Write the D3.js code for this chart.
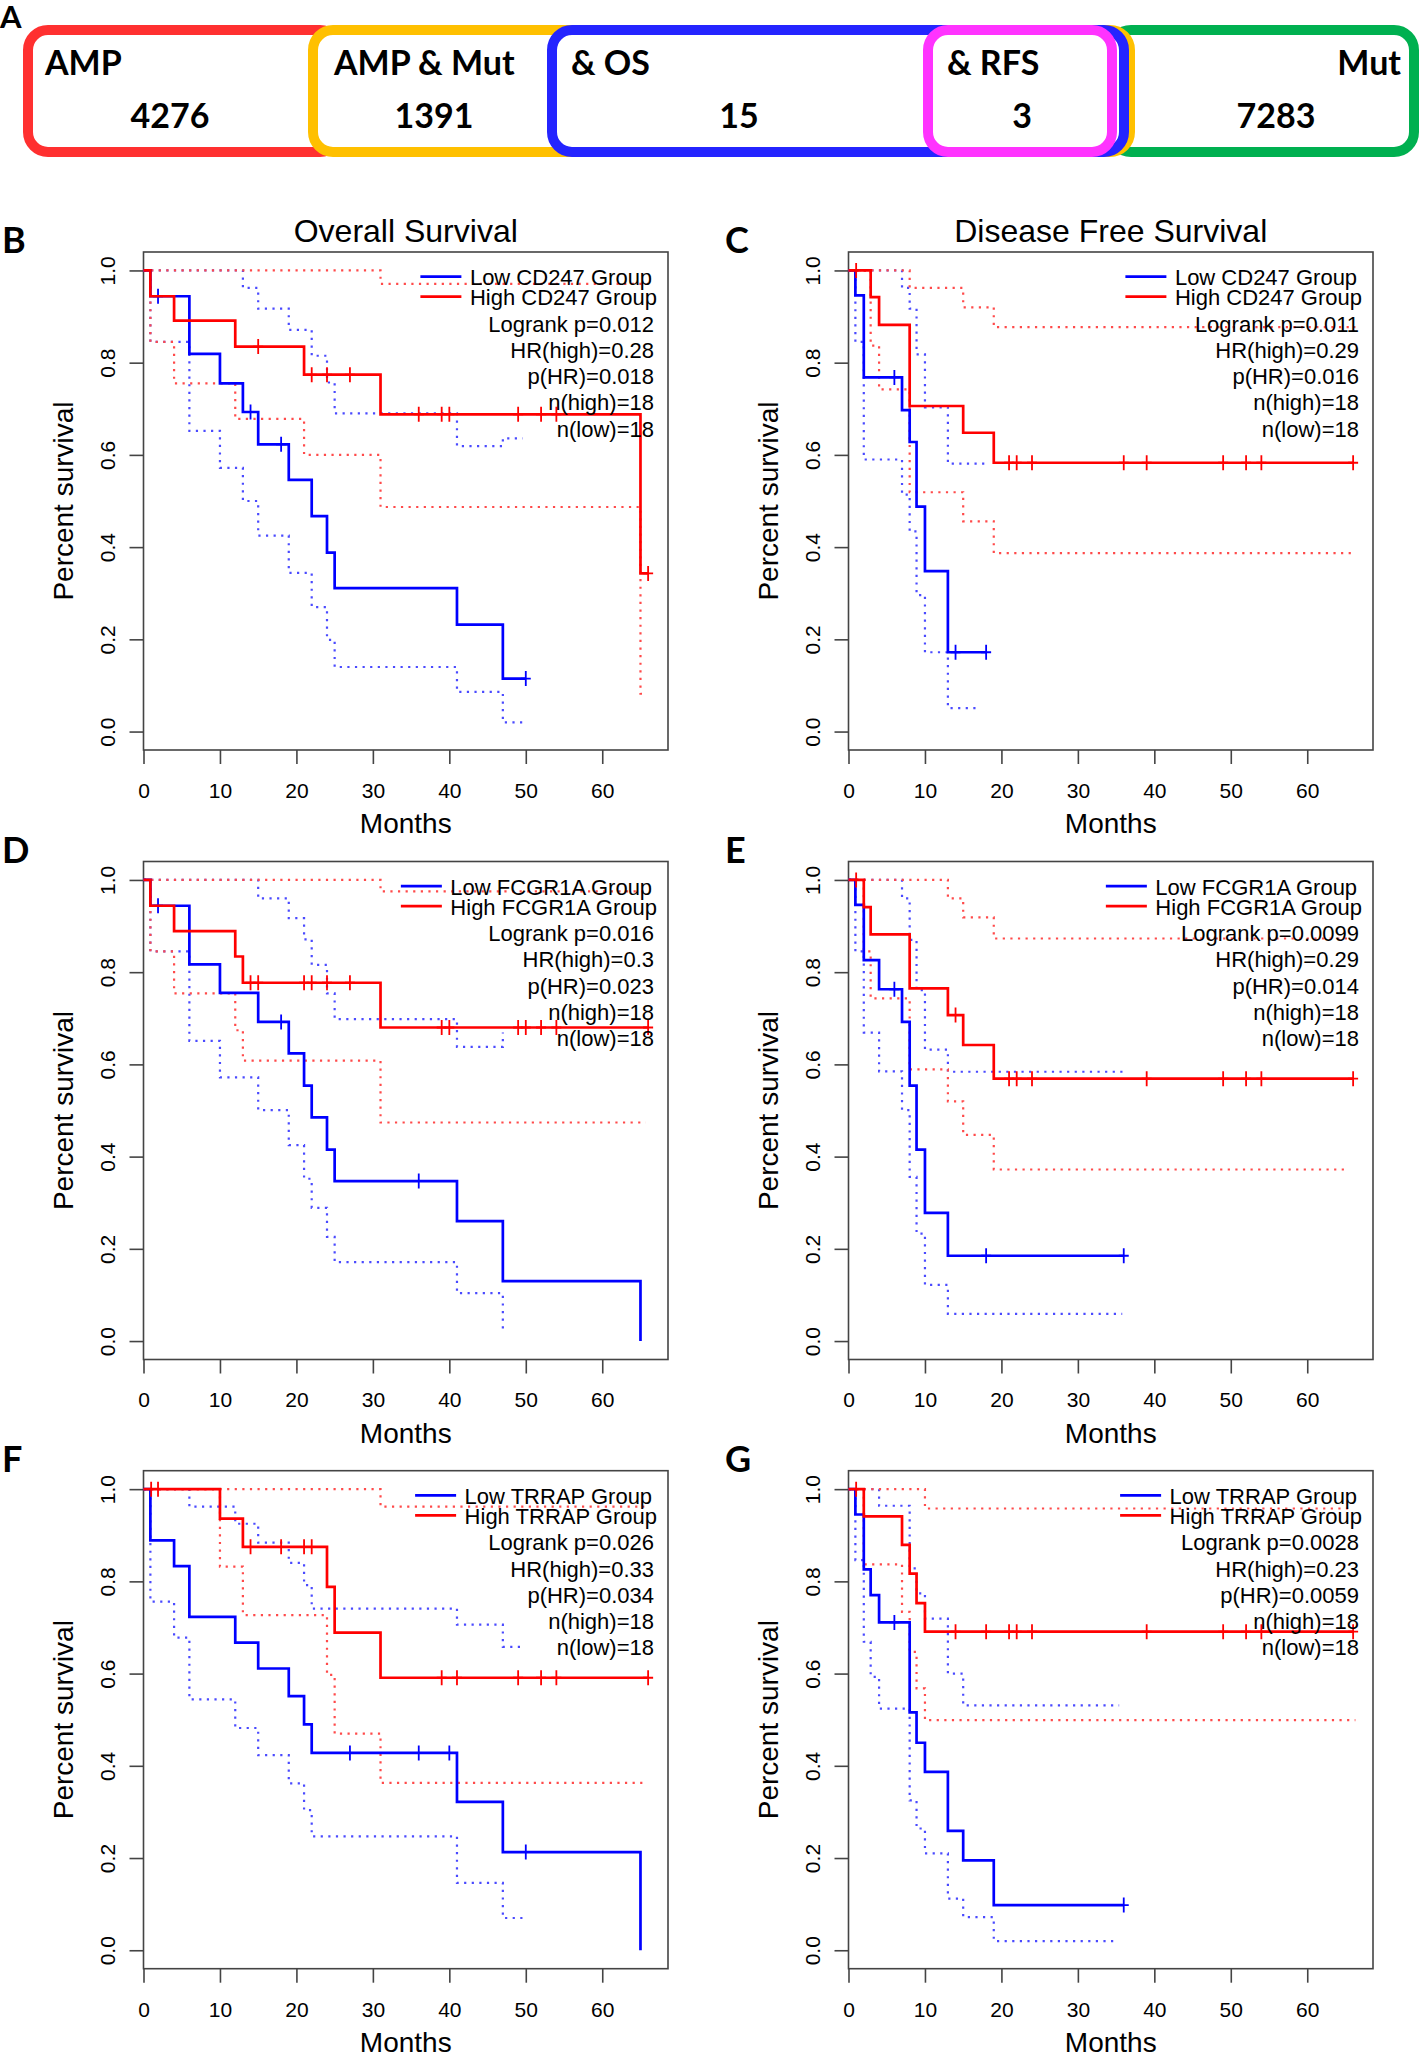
<!DOCTYPE html>
<html>
<head>
<meta charset="utf-8">
<script src="https://cdn.jsdelivr.net/npm/d3@7"></script>
<style>
    html, body { margin: 0; padding: 0; background: #fff; }
    svg { display: block; }
    .km-text { font-family: "Liberation Sans", Arial, sans-serif; fill: #000; }
    .fig-label { font-family: Lato, "Open Sans", sans-serif; font-weight: 700; fill: #000; }
</style>
</head>
<body>
<div id="chart"></div>
<script>
// ---------- data ----------
const vennLabels = ['AMP', 'AMP & Mut', '& OS', '& RFS', 'Mut'];
const vennCounts = ['4276', '1391', '15', '3', '7283'];

const monthTicks = [0, 10, 20, 30, 40, 50, 60];
const survivalTicks = [0, 0.2, 0.4, 0.6, 0.8, 1.0];

// [month, survival] step points
// B: CD247, overall survival
const bLow = [[0, 1], [0.9, 0.944], [6, 0.819], [10, 0.755], [13, 0.693], [15, 0.623], [19, 0.546], [22, 0.467], [24, 0.388], [25, 0.311], [41, 0.232], [47, 0.115], [50, 0.115]];
const bLowUpper = [[0, 1], [13, 0.962], [15, 0.917], [19, 0.871], [22, 0.815], [24, 0.757], [25, 0.690], [41, 0.619], [47, 0.636], [49.6, 0.636]];
const bLowLower = [[0, 1], [0.9, 0.845], [6, 0.652], [10, 0.572], [13, 0.500], [15, 0.425], [19, 0.344], [22, 0.270], [24, 0.199], [25, 0.140], [41, 0.086], [47, 0.020], [49.6, 0.020]];
const bHigh = [[0, 1], [0.9, 0.944], [4, 0.891], [12, 0.835], [21, 0.774], [31, 0.688], [65, 0.343], [66, 0.343]];
const bHighUpper = [[0, 1], [31, 0.971], [66, 0.971]];
const bHighLower = [[0, 1], [0.9, 0.845], [4, 0.755], [12, 0.678], [21, 0.600], [31, 0.487], [65, 0.082], [65.7, 0.082]];
const bLowCensor = [1.9, 14, 18, 50];
const bHighCensor = [15, 22, 24, 27, 36, 39, 40, 49, 52, 54, 66];
const bStats = ['Logrank p=0.012', 'HR(high)=0.28', 'p(HR)=0.018', 'n(high)=18', 'n(low)=18'];

// C: CD247, disease free survival
const cLow = [[0, 1], [0.9, 0.946], [2, 0.768], [7, 0.697], [8, 0.628], [8.9, 0.488], [10, 0.348], [13, 0.172], [18, 0.172]];
const cLowUpper = [[0, 1], [7, 0.962], [8, 0.917], [8.9, 0.818], [10, 0.703], [13, 0.581], [17.8, 0.581]];
const cLowLower = [[0, 1], [0.9, 0.845], [2, 0.590], [7, 0.514], [8, 0.434], [8.9, 0.296], [10, 0.172], [13, 0.051], [17.1, 0.051]];
const cHigh = [[0, 1], [2.9, 0.942], [4, 0.882], [8, 0.706], [15, 0.648], [19, 0.583], [66, 0.583]];
const cHighUpper = [[0, 1], [8, 0.962], [15, 0.920], [19, 0.877], [66.3, 0.877]];
const cHighLower = [[0, 1], [2.9, 0.837], [4, 0.742], [8, 0.519], [15, 0.456], [19, 0.387], [66.3, 0.387]];
const cLowCensor = [6, 14, 18];
const cHighCensor = [1, 21, 22, 24, 36, 39, 49, 52, 54, 66];
const cStats = ['Logrank p=0.011', 'HR(high)=0.29', 'p(HR)=0.016', 'n(high)=18', 'n(low)=18'];

// D: FCGR1A, overall survival
const dLow = [[0, 1], [0.9, 0.944], [6, 0.817], [10, 0.755], [15, 0.692], [19, 0.624], [21, 0.554], [22, 0.485], [24, 0.415], [25, 0.347], [41, 0.260], [47, 0.130], [65, 0]];
const dLowUpper = [[0, 1], [15, 0.960], [19, 0.917], [21, 0.871], [22, 0.816], [24, 0.754], [25, 0.698], [41, 0.638], [47, 0.669]];
const dLowLower = [[0, 1], [0.9, 0.845], [6, 0.651], [10, 0.572], [15, 0.501], [19, 0.425], [21, 0.352], [22, 0.289], [24, 0.226], [25, 0.171], [41, 0.104], [47, 0.023]];
const dHigh = [[0, 1], [0.9, 0.944], [4, 0.889], [12, 0.834], [13, 0.777], [31, 0.680], [66, 0.680]];
const dHighUpper = [[0, 1], [31, 0.975], [66, 0.975]];
const dHighLower = [[0, 1], [0.9, 0.845], [4, 0.754], [12, 0.674], [13, 0.608], [31, 0.474], [65.7, 0.474]];
const dLowCensor = [1.9, 18, 36];
const dHighCensor = [14, 15, 21, 22, 24, 27, 39, 40, 49, 50, 52, 54, 66];
const dStats = ['Logrank p=0.016', 'HR(high)=0.3', 'p(HR)=0.023', 'n(high)=18', 'n(low)=18'];

// E: FCGR1A, disease free survival
const eLow = [[0, 1], [0.9, 0.946], [2, 0.826], [4, 0.763], [7, 0.692], [8, 0.554], [8.9, 0.415], [10, 0.278], [13, 0.185], [36, 0.185]];
const eLowUpper = [[0, 1], [7, 0.960], [8, 0.870], [8.9, 0.761], [10, 0.632], [13, 0.584], [35.9, 0.584]];
const eLowLower = [[0, 1], [0.9, 0.845], [2, 0.669], [4, 0.585], [7, 0.501], [8, 0.356], [8.9, 0.233], [10, 0.122], [13, 0.059], [35.8, 0.059]];
const eHigh = [[0, 1], [2, 0.941], [2.9, 0.882], [8, 0.765], [13, 0.707], [15, 0.642], [19, 0.569], [66, 0.569]];
const eHighUpper = [[0, 1], [13, 0.960], [15, 0.919], [19, 0.873], [65.4, 0.873]];
const eHighLower = [[0, 1], [2, 0.845], [2.9, 0.743], [8, 0.589], [13, 0.520], [15, 0.447], [19, 0.372], [65.4, 0.372]];
const eLowCensor = [6, 18, 36];
const eHighCensor = [1, 14, 21, 22, 24, 39, 49, 52, 54, 66];
const eStats = ['Logrank p=0.0099', 'HR(high)=0.29', 'p(HR)=0.014', 'n(high)=18', 'n(low)=18'];

// F: TRRAP, overall survival
const fLow = [[0, 1], [0.9, 0.889], [4, 0.833], [6, 0.723], [12, 0.667], [15, 0.611], [19, 0.551], [21, 0.490], [22, 0.428], [41, 0.322], [47, 0.213], [65, 0]];
const fLowUpper = [[0, 1], [6, 0.962], [12, 0.925], [15, 0.884], [19, 0.840], [21, 0.792], [22, 0.741], [41, 0.706], [47, 0.658], [49.8, 0.658]];
const fLowLower = [[0, 1], [0.9, 0.756], [4, 0.678], [6, 0.544], [12, 0.482], [15, 0.423], [19, 0.362], [21, 0.304], [22, 0.247], [41, 0.146], [47, 0.070], [49.8, 0.070]];
const fHigh = [[0, 1], [10, 0.936], [13, 0.875], [24, 0.788], [25, 0.689], [31, 0.591], [66, 0.591]];
const fHighUpper = [[0, 1], [31, 0.962], [65.5, 0.962]];
const fHighLower = [[0, 1], [10, 0.832], [13, 0.727], [24, 0.597], [25, 0.470], [31, 0.363], [65.5, 0.363]];
const fLowCensor = [27, 36, 40, 50];
const fHighCensor = [1, 1.9, 14, 18, 21, 22, 39, 41, 49, 52, 54, 66];
const fStats = ['Logrank p=0.026', 'HR(high)=0.33', 'p(HR)=0.034', 'n(high)=18', 'n(low)=18'];

// G: TRRAP, disease free survival
const gLow = [[0, 1], [0.9, 0.945], [2, 0.826], [2.9, 0.770], [4, 0.711], [8, 0.516], [8.9, 0.450], [10, 0.387], [13, 0.259], [15, 0.195], [19, 0.098], [36, 0.098]];
const gLowUpper = [[0, 1], [4, 0.964], [8, 0.828], [8.9, 0.774], [10, 0.719], [13, 0.600], [15, 0.531], [35.4, 0.531]];
const gLowLower = [[0, 1], [0.9, 0.846], [2, 0.669], [2.9, 0.593], [4, 0.524], [8, 0.325], [8.9, 0.264], [10, 0.210], [13, 0.112], [15, 0.072], [19, 0.020], [35.2, 0.020]];
const gHigh = [[0, 1], [2, 0.941], [7, 0.879], [8, 0.817], [8.9, 0.753], [10, 0.691], [66, 0.691]];
const gHighUpper = [[0, 1], [10, 0.958], [65.5, 0.958]];
const gHighLower = [[0, 1], [2, 0.837], [7, 0.734], [8, 0.647], [8.9, 0.568], [10, 0.499], [66.3, 0.499]];
const gLowCensor = [6, 36];
const gHighCensor = [1, 14, 18, 21, 22, 24, 39, 49, 52, 54, 66];
const gStats = ['Logrank p=0.0028', 'HR(high)=0.23', 'p(HR)=0.0059', 'n(high)=18', 'n(low)=18'];

// ---------- layout ----------
const W = 1422, H = 2056;
const colLeft = [143.5, 848.5];
const rowTop = [252, 861.5, 1470.7];
const boxW = 524.5, boxH = 498;
const xMax = 68.6;

const RED = '#ff0000', BLUE = '#0000ff';
const RED_DOT = '#ff4a4a', BLUE_DOT = '#4a4aff';

const panels = [
    { id: 'B', gene: 'CD247', title: 'Overall Survival', col: 0, row: 0,
      low: bLow, lowUpper: bLowUpper, lowLower: bLowLower, high: bHigh, highUpper: bHighUpper, highLower: bHighLower,
      lowCensor: bLowCensor, highCensor: bHighCensor, stats: bStats },
    { id: 'C', gene: 'CD247', title: 'Disease Free Survival', col: 1, row: 0,
      low: cLow, lowUpper: cLowUpper, lowLower: cLowLower, high: cHigh, highUpper: cHighUpper, highLower: cHighLower,
      lowCensor: cLowCensor, highCensor: cHighCensor, stats: cStats },
    { id: 'D', gene: 'FCGR1A', title: null, col: 0, row: 1,
      low: dLow, lowUpper: dLowUpper, lowLower: dLowLower, high: dHigh, highUpper: dHighUpper, highLower: dHighLower,
      lowCensor: dLowCensor, highCensor: dHighCensor, stats: dStats },
    { id: 'E', gene: 'FCGR1A', title: null, col: 1, row: 1,
      low: eLow, lowUpper: eLowUpper, lowLower: eLowLower, high: eHigh, highUpper: eHighUpper, highLower: eHighLower,
      lowCensor: eLowCensor, highCensor: eHighCensor, stats: eStats },
    { id: 'F', gene: 'TRRAP', title: null, col: 0, row: 2,
      low: fLow, lowUpper: fLowUpper, lowLower: fLowLower, high: fHigh, highUpper: fHighUpper, highLower: fHighLower,
      lowCensor: fLowCensor, highCensor: fHighCensor, stats: fStats },
    { id: 'G', gene: 'TRRAP', title: null, col: 1, row: 2,
      low: gLow, lowUpper: gLowUpper, lowLower: gLowLower, high: gHigh, highUpper: gHighUpper, highLower: gHighLower,
      lowCensor: gLowCensor, highCensor: gHighCensor, stats: gStats }
];

const svg = d3.select('#chart')
    .append('svg')
    .attr('width', W)
    .attr('height', H)
    .style('background', '#fff');

// ---------- panel A: overlapping set boxes ----------
// drawn back to front so the white fill hides the covered edges
const vennBoxes = [
    { x0: 23, x1: 345, color: '#ff3030' },
    { x0: 1106, x1: 1419, color: '#00b050' },
    { x0: 308, x1: 1135, color: '#ffc000' },
    { x0: 547, x1: 1129, color: '#2424ff' },
    { x0: 923, x1: 1117, color: '#ff33ff' }
];
const vennTop = 25, vennBottom = 157, vennStroke = 10;

vennBoxes.forEach(b => {
    svg.append('rect')
        .attr('x', b.x0 + vennStroke / 2)
        .attr('y', vennTop + vennStroke / 2)
        .attr('width', b.x1 - b.x0 - vennStroke)
        .attr('height', vennBottom - vennTop - vennStroke)
        .attr('rx', 20)
        .attr('fill', '#fff')
        .attr('stroke', b.color)
        .attr('stroke-width', vennStroke);
});

const vennLabelPos = [
    { x: 45, anchor: 'start' },
    { x: 334, anchor: 'start' },
    { x: 571, anchor: 'start' },
    { x: 947, anchor: 'start' },
    { x: 1401, anchor: 'end' }
];
const vennCountX = [170, 434, 739, 1022, 1276];

vennLabels.forEach((label, i) => {
    svg.append('text')
        .attr('class', 'fig-label')
        .attr('x', vennLabelPos[i].x)
        .attr('y', 75)
        .attr('text-anchor', vennLabelPos[i].anchor)
        .style('font-size', '34px')
        .text(label);
    svg.append('text')
        .attr('class', 'fig-label')
        .attr('x', vennCountX[i])
        .attr('y', 128)
        .attr('text-anchor', 'middle')
        .style('font-size', '34px')
        .text(vennCounts[i]);
});

svg.append('text')
    .attr('class', 'fig-label')
    .attr('x', 0)
    .attr('y', 28)
    .style('font-size', '31px')
    .text('A');

// ---------- KM panels ----------
function valueAt(curve, t) {
    let v = curve[0][1];
    curve.forEach(p => { if (p[0] <= t) v = p[1]; });
    return v;
}

function drawPanel(p) {
    const left = colLeft[p.col];
    const top = rowTop[p.row];
    const right = left + boxW;

    const x = d3.scaleLinear().domain([0, xMax]).range([left, right]);
    const y = d3.scaleLinear().domain([-0.04, 1.04]).range([top + boxH, top]);

    const g = svg.append('g').attr('class', 'km-panel');

    // panel letter
    svg.append('text')
        .attr('class', 'fig-label')
        .attr('x', p.col === 0 ? 2 : 725)
        .attr('y', top + 1)
        .style('font-size', '36px')
        .text(p.id);

    // x axis
    const xAxis = g.append('g')
        .attr('transform', `translate(0,${top + boxH})`)
        .call(d3.axisBottom(x).tickValues(monthTicks).tickSize(14).tickPadding(19));
    xAxis.select('.domain').remove();
    xAxis.selectAll('line').attr('stroke', '#444').attr('stroke-width', 1.6);
    xAxis.selectAll('text')
        .attr('class', 'km-text')
        .style('font-size', '21px')
        .attr('fill', '#111');

    // y axis (labels parallel to the axis)
    const yAxis = g.append('g')
        .attr('transform', `translate(${left},0)`)
        .call(d3.axisLeft(y).tickValues(survivalTicks).tickSize(14).tickFormat(d3.format('.1f')));
    yAxis.select('.domain').remove();
    yAxis.selectAll('line').attr('stroke', '#444').attr('stroke-width', 1.6);
    yAxis.selectAll('text')
        .attr('class', 'km-text')
        .attr('x', null)
        .attr('dy', null)
        .attr('text-anchor', 'middle')
        .attr('transform', 'translate(-28.5,0) rotate(-90)')
        .style('font-size', '21px')
        .attr('fill', '#111');

    // frame
    g.append('rect')
        .attr('x', left)
        .attr('y', top)
        .attr('width', boxW)
        .attr('height', boxH)
        .attr('fill', 'none')
        .attr('stroke', '#444')
        .attr('stroke-width', 1.6);

    // axis titles
    g.append('text')
        .attr('class', 'km-text')
        .attr('x', (left + right) / 2)
        .attr('y', top + boxH + 83)
        .attr('text-anchor', 'middle')
        .style('font-size', '28px')
        .text('Months');

    g.append('text')
        .attr('class', 'km-text')
        .attr('text-anchor', 'middle')
        .attr('transform', `translate(${left - 70.5},${top + boxH / 2}) rotate(-90)`)
        .style('font-size', '28px')
        .text('Percent survival');

    if (p.title) {
        g.append('text')
            .attr('class', 'km-text')
            .attr('x', (left + right) / 2)
            .attr('y', top - 10)
            .attr('text-anchor', 'middle')
            .style('font-size', '32px')
            .text(p.title);
    }

    // curves
    const line = d3.line()
        .x(d => x(d[0]))
        .y(d => y(d[1]))
        .curve(d3.curveStepAfter);

    const dotted = [[p.lowUpper, BLUE_DOT], [p.lowLower, BLUE_DOT], [p.highUpper, RED_DOT], [p.highLower, RED_DOT]];
    dotted.forEach(([data, color]) => {
        g.append('path')
            .datum(data)
            .attr('d', line)
            .attr('fill', 'none')
            .attr('stroke', color)
            .attr('stroke-width', 2.2)
            .attr('stroke-dasharray', '2.2,5.4');
    });

    [[p.low, BLUE, p.lowCensor], [p.high, RED, p.highCensor]].forEach(([data, color, censor]) => {
        g.append('path')
            .datum(data)
            .attr('d', line)
            .attr('fill', 'none')
            .attr('stroke', color)
            .attr('stroke-width', 2.7);

        censor.forEach(t => {
            const cx = x(t), cy = y(valueAt(data, t));
            g.append('path')
                .attr('d', `M${cx},${cy - 7.5}V${cy + 7.5}M${cx - 5},${cy}H${cx + 5}`)
                .attr('stroke', color)
                .attr('stroke-width', 1.8)
                .attr('fill', 'none');
        });
    });

    // legend
    const legendLabels = [`Low ${p.gene} Group`, `High ${p.gene} Group`];
    const legendTexts = legendLabels.map((label, i) => g.append('text')
        .attr('class', 'km-text')
        .attr('y', top + 33 + i * 20)
        .style('font-size', '22px')
        .text(label));
    const maxW = d3.max(legendTexts, t => t.node().getComputedTextLength());
    const textLeft = right - 11 - maxW;
    legendTexts.forEach((t, i) => {
        t.attr('x', textLeft);
        g.append('line')
            .attr('x1', textLeft - 49.5)
            .attr('x2', textLeft - 8.5)
            .attr('y1', top + 24.7 + i * 20)
            .attr('y2', top + 24.7 + i * 20)
            .attr('stroke', i === 0 ? BLUE : RED)
            .attr('stroke-width', 2.7);
    });

    p.stats.forEach((s, i) => {
        g.append('text')
            .attr('class', 'km-text')
            .attr('x', right - 14)
            .attr('y', top + 79.6 + i * 26.25)
            .attr('text-anchor', 'end')
            .style('font-size', '22px')
            .text(s);
    });
}

panels.forEach(drawPanel);
</script>
</body>
</html>
